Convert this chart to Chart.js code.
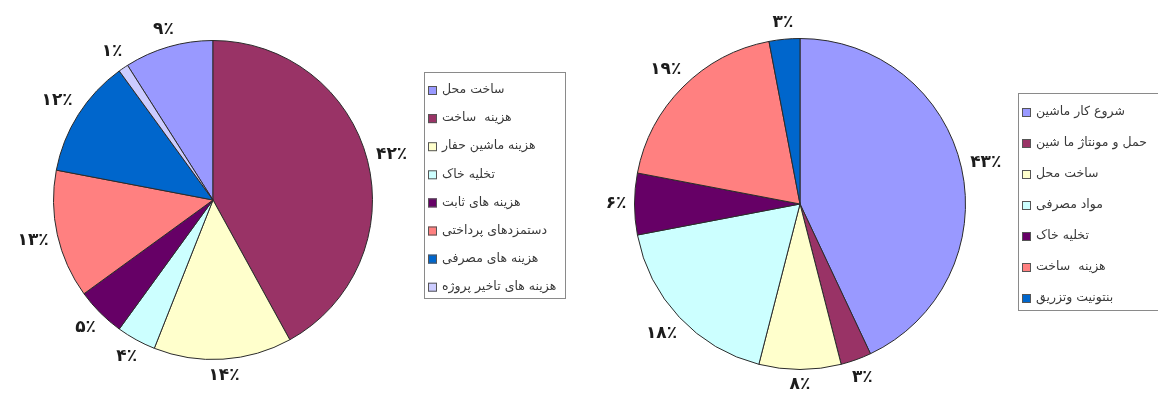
<!DOCTYPE html>
<html>
<head>
<meta charset="utf-8">
<script src="https://cdn.jsdelivr.net/npm/chart.js@4/dist/chart.umd.min.js"></script>
<style>
  body { margin:0; background:#fff; width:1158px; height:394px; overflow:hidden; position:relative; }
  canvas { position:absolute; top:0; }
  #left-pie { left:0; }
  #right-pie { left:580px; }
</style>
</head>
<body>
<canvas id="left-pie" width="580" height="394"></canvas>
<canvas id="right-pie" width="578" height="394"></canvas>
<script>
// left chart
const leftLabels = ["ساخت محل","هزینه  ساخت","هزینه ماشین حفار","تخلیه خاک","هزینه های ثابت","دستمزدهای پرداختی","هزینه های مصرفی","هزینه های تاخیر پروژه"];
const leftValues = [9,42,14,4,5,13,12,1];
const leftColors = ["#9999ff","#993366","#ffffcc","#ccffff","#660066","#ff8080","#0066cc","#ccccff"];

// right chart
const rightLabels = ["شروع کار ماشین","حمل و مونتاژ ما شین","ساخت محل","مواد مصرفی","تخلیه خاک","هزینه  ساخت","بنتونیت وتزریق"];
const rightValues = [43,3,8,18,6,19,3];
const rightColors = ["#9999ff","#993366","#ffffcc","#ccffff","#660066","#ff8080","#0066cc"];

const faDigits = "۰۱۲۳۴۵۶۷۸۹";
function toFa(n) {
    return String(n).replace(/\d/g, d => faDigits[d]);
}

const outsideLabels = {
    id: "outsideLabels",
    afterDatasetsDraw(chart, args, opts) {
        const ctx = chart.ctx;
        const meta = chart.getDatasetMeta(0);
        const vals = chart.data.datasets[0].data;
        ctx.save();
        ctx.font = 'bold 17px "DejaVu Sans"';
        ctx.fillStyle = "#1c1c1c";
        ctx.textAlign = "center";
        ctx.textBaseline = "middle";
        meta.data.forEach((arc, i) => {
            const p = arc.getProps(["x","y","startAngle","endAngle","outerRadius"], true);
            const mid = (p.startAngle + p.endAngle) / 2;
            const txt = toFa(vals[i]) + "٪";
            const w = ctx.measureText(txt).width, h = 15;
            const d = p.outerRadius + opts.pad + Math.abs(Math.cos(mid))*w/2 + Math.abs(Math.sin(mid))*h/2;
            ctx.fillText(txt, p.x + Math.cos(mid)*d, p.y + Math.sin(mid)*d);
        });
        ctx.restore();
    }
};

const boxLegend = {
    id: "boxLegend",
    afterDraw(chart, args, o) {
        const ctx = chart.ctx;
        const labels = chart.data.labels;
        const colors = chart.data.datasets[0].backgroundColor;
        ctx.save();
        ctx.strokeStyle = "#8a8a8a";
        ctx.lineWidth = 1;
        ctx.strokeRect(o.x + 0.5, o.y + 0.5, o.w, o.h);
        ctx.font = '12.5px "DejaVu Sans"';
        ctx.textAlign = "left";
        ctx.textBaseline = "middle";
        labels.forEach((lab, i) => {
            const y = o.y0 + i*o.step;
            ctx.fillStyle = colors[i];
            ctx.fillRect(o.sx, y - 4, 9, 9);
            ctx.strokeStyle = "#555";
            ctx.strokeRect(o.sx + 0.5, y - 3.5, 8, 8);
            ctx.fillStyle = "#3a3a3a";
            ctx.fillText(lab, o.sx + 14, y);
        });
        ctx.restore();
    }
};

function makePie(id, labels, values, colors, rotation, padding, legendOpts) {
    new Chart(document.getElementById(id), {
        type: "pie",
        data: {
            labels: labels,
            datasets: [{
                data: values,
                backgroundColor: colors,
                borderColor: "#2b2b2b",
                borderWidth: 1
            }]
        },
        options: {
            responsive: false,
            animation: false,
            rotation: rotation,
            layout: { padding: padding },
            plugins: {
                legend: { display: false },
                tooltip: { enabled: false },
                outsideLabels: { pad: 8 },
                boxLegend: legendOpts
            }
        },
        plugins: [outsideLabels, boxLegend]
    });
}

makePie("left-pie", leftLabels, leftValues, leftColors, -32.4,
    { left: 53, right: 207, top: 40, bottom: 34 },
    { x: 424, y: 72, w: 141, h: 226, sx: 428, y0: 90, step: 28.1 });

makePie("right-pie", rightLabels, rightValues, rightColors, 0,
    { left: 54, right: 192, top: 38, bottom: 24 },
    { x: 438, y: 93, w: 160, h: 217, sx: 442, y0: 112, step: 31 });
</script>
</body>
</html>
